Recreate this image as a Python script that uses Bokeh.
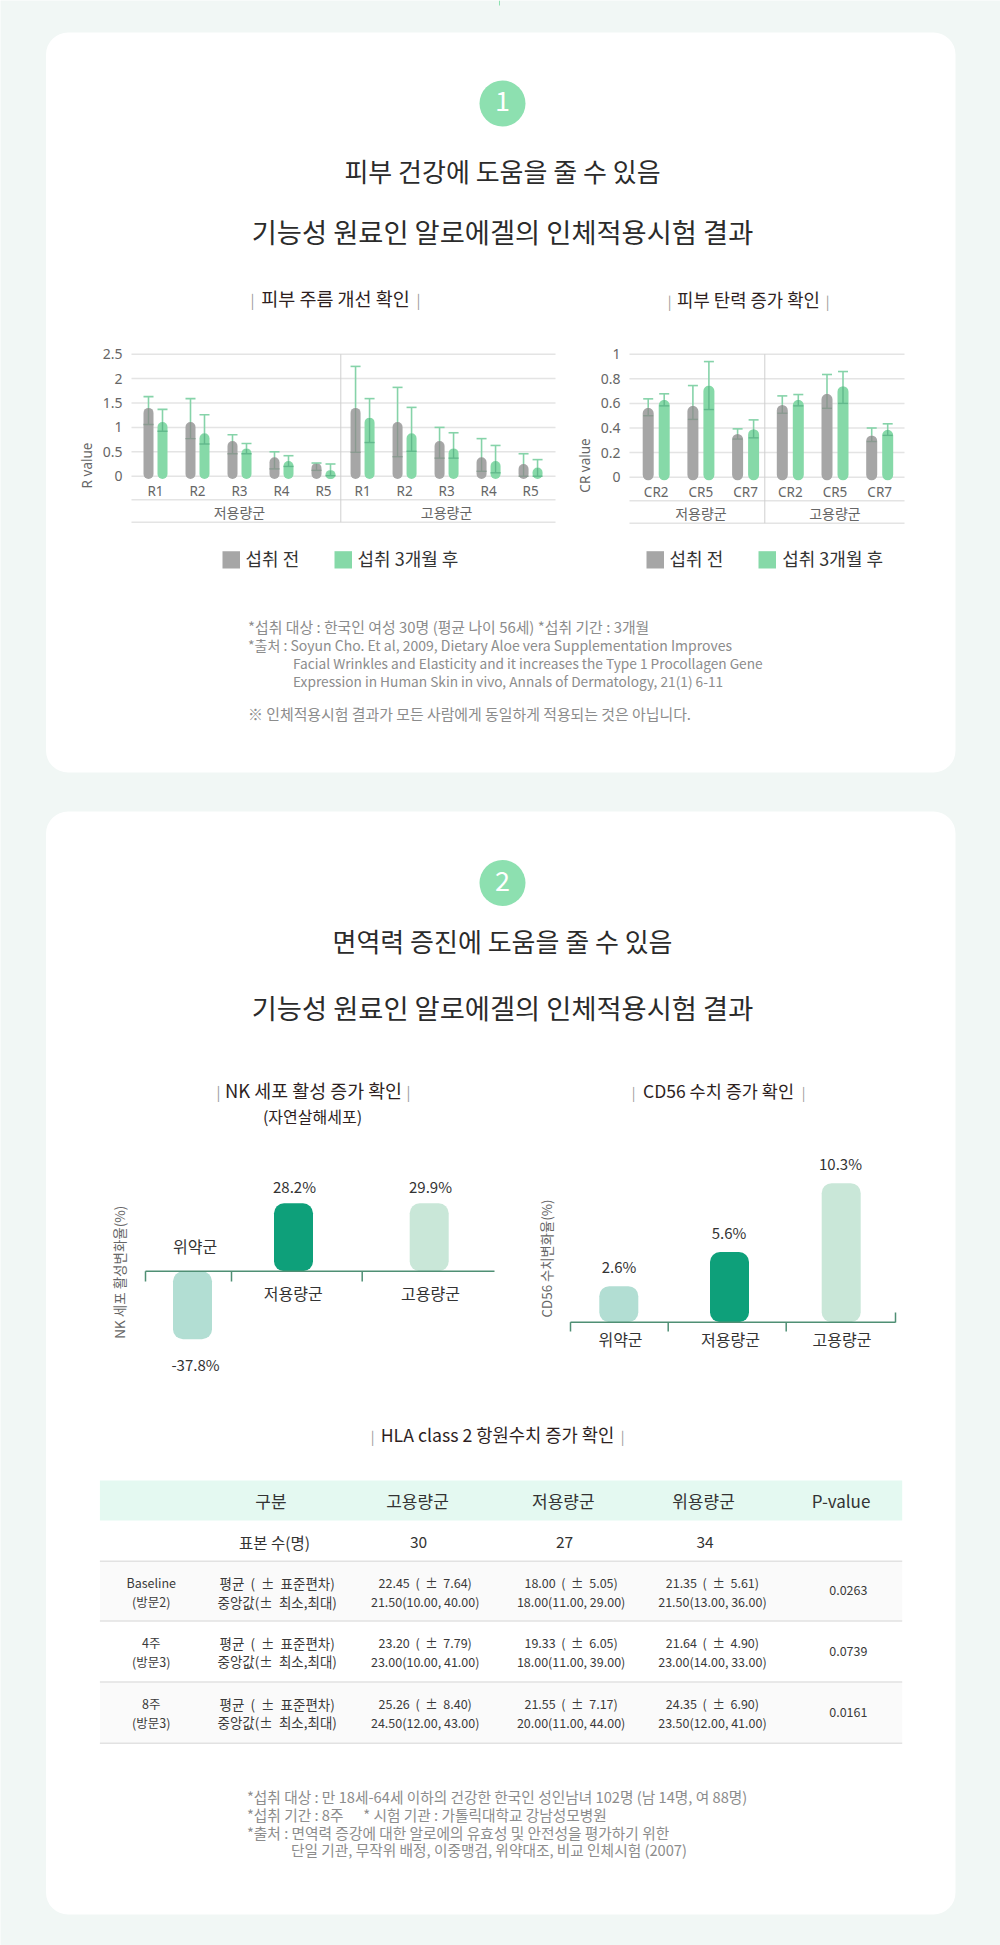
import numpy as np
from bokeh.core.properties import value
from bokeh.embed import file_html
from bokeh.models import FixedTicker, LinearAxis, Range1d
from bokeh.plotting import figure
from bokeh.resources import INLINE

# ---------- data ----------
r_labels = ["R1", "R2", "R3", "R4", "R5"]
r_before = [1.40, 1.11, 0.72, 0.39, 0.27, 1.40, 1.11, 0.72, 0.39, 0.25]
r_after = [1.11, 0.88, 0.57, 0.31, 0.12, 1.20, 0.88, 0.57, 0.31, 0.18]
r_before_hi = [1.63, 1.59, 0.85, 0.50, 0.27, 2.25, 1.82, 1.00, 0.77, 0.46]
r_before_lo = [1.06, 0.77, 0.46, 0.15, 0.12, 0.49, 0.40, 0.37, 0.10, 0.00]
r_after_hi = [1.37, 1.26, 0.67, 0.42, 0.25, 1.59, 1.41, 0.89, 0.63, 0.34]
r_after_lo = [0.92, 0.66, 0.46, 0.20, 0.01, 0.69, 0.51, 0.37, 0.07, 0.00]
r_ticks = [0, 0.5, 1, 1.5, 2, 2.5]

cr_labels = ["CR2", "CR5", "CR7"]
cr_before = [0.564, 0.58, 0.352, 0.588, 0.678, 0.339]
cr_after = [0.629, 0.745, 0.39, 0.629, 0.74, 0.385]
cr_before_hi = [0.637, 0.745, 0.393, 0.661, 0.835, 0.40]
cr_before_lo = [0.50, 0.47, 0.31, 0.52, 0.56, 0.29]
cr_after_hi = [0.678, 0.94, 0.466, 0.672, 0.859, 0.434]
cr_after_lo = [0.58, 0.55, 0.32, 0.58, 0.60, 0.34]
cr_ticks = [0, 0.2, 0.4, 0.6, 0.8, 1]

groups = ["저용량군", "고용량군"]
legend_labels = ["섭취 전", "섭취 3개월 후"]

nk_groups = ["위약군", "저용량군", "고용량군"]
nk_labels = ["-37.8%", "28.2%", "29.9%"]
nk_drawn = [-38, 38, 38]
cd_groups = ["위약군", "저용량군", "고용량군"]
cd_labels = ["2.6%", "5.6%", "10.3%"]
cd_drawn = [2.67, 5.2, 10.3]
group_colors = ["#b2ded3", "#0ea07a", "#c9e7d8"]

table_head = ["구분", "고용량군", "저용량군", "위용량군", "P-value"]
table_n = ["표본 수(명)", "30", "27", "34"]
table_rows = [
    (["Baseline", "(방문2)"], ["22.45 (± 7.64)", "21.50(10.00, 40.00)"],
     ["18.00 (± 5.05)", "18.00(11.00, 29.00)"], ["21.35 (± 5.61)", "21.50(13.00, 36.00)"], "0.0263"),
    (["4주", "(방문3)"], ["23.20 (± 7.79)", "23.00(10.00, 41.00)"],
     ["19.33 (± 6.05)", "18.00(11.00, 39.00)"], ["21.64 (± 4.90)", "23.00(14.00, 33.00)"], "0.0739"),
    (["8주", "(방문3)"], ["25.26 (± 8.40)", "24.50(12.00, 43.00)"],
     ["21.55 (± 7.17)", "20.00(11.00, 44.00)"], ["24.35 (± 6.90)", "23.50(12.00, 41.00)"], "0.0161"),
]
table_stat = ["평균 (± 표준편차)", "중앙값(± 최소,최대)"]

notes_1 = ["*섭취 대상 : 한국인 여성 30명 (평균 나이 56세) *섭취 기간 : 3개월",
           "*출처 : Soyun Cho. Et al, 2009, Dietary Aloe vera Supplementation Improves",
           "Facial Wrinkles and Elasticity and it increases the Type 1 Procollagen Gene",
           "Expression in Human Skin in vivo, Annals of Dermatology, 21(1) 6-11",
           "※ 인체적용시험 결과가 모든 사람에게 동일하게 적용되는 것은 아닙니다."]
notes_2 = ["*섭취 대상 : 만 18세-64세 이하의 건강한 한국인 성인남녀 102명 (남 14명, 여 88명)",
           "*섭취 기간 : 8주\u00a0\u00a0\u00a0\u00a0\u00a0\u00a0* 시험 기관 : 가톨릭대학교 강남성모병원",
           "*출처 : 면역력 증강에 대한 알로에의 유효성 및 안전성을 평가하기 위한",
           "단일 기관, 무작위 배정, 이중맹검, 위약대조, 비교 인체시험 (2007)"]

# ---------- canvas: default ranges are page pixels ----------
BG = "#f1f7f5"
FONT = "Noto Sans CJK KR"
GREY, GREEN = "#a6a6a6", "#86d9a8"
L, R, T, B = 0, 1000, 0, 1945

p = figure(width=R - L, height=B - T, x_range=Range1d(L, R), y_range=Range1d(B, T),
           x_axis_location=None, y_axis_location=None, toolbar_location=None,
           output_backend="svg", min_border=0)
p.grid.visible = False
p.outline_line_color = None
p.background_fill_color = BG
p.border_fill_color = BG


def x_scale(name, a, pa, b, pb):
    k = (b - a) / (pb - pa)
    p.extra_x_ranges[name] = Range1d(a + (L - pa) * k, a + (R - pa) * k)


def y_scale(name, a, pa, b, pb):
    k = (b - a) / (pb - pa)
    p.extra_y_ranges[name] = Range1d(a + (B - pa) * k, a + (T - pa) * k)


def txt(x, y, s, size=14, color="#333333", align="center", angle=0, style="normal", font=FONT):
    if size >= 15 and angle == 0:
        y -= size * 0.08
    p.text(x=[x], y=[y], text=[s], text_font=value(font), text_font_size=f"{size}px",
           text_color=color, text_align=align, text_baseline="middle", angle=angle,
           text_font_style=style)


def subtitle(cx, y, s, half, size=18):
    txt(cx, y, s, size, "#2e1f1f")
    txt(cx - half, y, "|", size - 4, "#9a9a9a")
    txt(cx + half, y, "|", size - 4, "#9a9a9a")


def spaced(s):
    return s.replace(" (", "\u00a0\u00a0(\u00a0\u00a0").replace("± ", "±\u00a0\u00a0")


# top connector and cards
p.segment(x0=[499], x1=[499], y0=[0], y1=[5], line_color="#8de0b0", line_width=1)
p.quad(left=[45.5, 45.5], right=[955, 955], top=[32, 811], bottom=[772, 1914],
       fill_color="white", line_color=None, border_radius=22)


def header(y, n, title1, y1, title2, y2):
    p.circle(x=[502], y=[y], radius=23, fill_color="#8de0b0", line_color=None)
    txt(502, y, n, 27, "white")
    txt(502, y1, title1, 26, "#2b2b2b")
    txt(502, y2, title2, 27.3, "#2b2b2b")


header(103, "1", "피부 건강에 도움을 줄 수 있음", 172.5, "기능성 원료인 알로에겔의 인체적용시험 결과", 233)
header(882.6, "2", "면역력 증진에 도움을 줄 수 있음", 942.5, "기능성 원료인 알로에겔의 인체적용시험 결과", 1009)


def range_chart(name, ylabel, ylabel_x, cats, before, after, b_hi, b_lo, a_hi, a_lo, ticks,
                left, right, y_top, y_zero, line1, line2, divider, x0_px, step_px, group_gap,
                off_px, width_px, foot, n_per_group, legend_x):
    xn, yn = name + "x", name + "y"
    x_scale(xn, 0, x0_px, 1, x0_px + step_px)
    y_scale(yn, 0, y_zero, ticks[-1], y_top)

    # grid
    p.segment(x0=[left] * len(ticks), x1=[right] * len(ticks), y0=ticks, y1=ticks, y_range_name=yn,
              line_color="#e4e4e4", line_width=1.5)
    p.segment(x0=[left, left], x1=[right, right], y0=[line1, line2], y1=[line1, line2],
              line_color="#e4e4e4", line_width=1.5)
    p.segment(x0=[divider], x1=[divider], y0=[y_top], y1=[line2], line_color="#cfcfcf", line_width=1)

    n = len(before)
    slots = np.arange(n, dtype=float)
    slots[n_per_group:] += group_gap
    off = off_px / step_px
    w = width_px / step_px
    bottom = [foot] * n
    cap = 5 / step_px
    for dx, vals, color in ((0, before, GREY), (off, after, GREEN)):
        p.vbar(x=slots + dx, width=w, top=vals, bottom=bottom, fill_color=color, line_color=None,
               border_radius=int(round(width_px / 2)), x_range_name=xn, y_range_name=yn)
    for dx, vals, hi, lo, dark in ((0, before, b_hi, b_lo, "#8a9a90"), (off, after, a_hi, a_lo, "#62b98c")):
        xs = slots + dx
        p.segment(x0=xs, x1=xs, y0=vals, y1=hi, line_color="#86d3a9", line_width=1.6,
                  x_range_name=xn, y_range_name=yn)
        p.segment(x0=xs, x1=xs, y0=lo, y1=vals, line_color=dark, line_width=1.4,
                  x_range_name=xn, y_range_name=yn)
        p.segment(x0=xs - cap, x1=xs + cap, y0=hi, y1=hi, line_color="#86d3a9", line_width=1.6,
                  x_range_name=xn, y_range_name=yn)
        p.segment(x0=xs - cap, x1=xs + cap, y0=lo, y1=lo, line_color=dark, line_width=1.4,
                  x_range_name=xn, y_range_name=yn)

    # y axis
    ya = LinearAxis(y_range_name=yn, fixed_location=left, ticker=FixedTicker(ticks=ticks),
                    axis_line_color=None, major_tick_line_color=None, minor_tick_line_color=None,
                    major_tick_out=0, minor_tick_out=0,
                    major_label_standoff=9, major_label_text_font="Noto Sans",
                    major_label_text_font_size="14px", major_label_text_color="#666666",
                    major_label_overrides={t: f"{t:g}" for t in ticks})
    p.add_layout(ya, "left")
    txt(ylabel_x, 465, ylabel, 13.5, "#666666", angle=np.pi / 2, font="Noto Sans")

    # category and group axes
    centres = slots + off / 2
    xa = LinearAxis(x_range_name=xn, fixed_location=y_zero, ticker=FixedTicker(ticks=[float(c) for c in centres]),
                    axis_line_color=None, major_tick_line_color=None, minor_tick_line_color=None,
                    major_tick_out=0, minor_tick_out=0,
                    major_label_standoff=6, major_label_text_font="Noto Sans",
                    major_label_text_font_size="13.5px", major_label_text_color="#666666",
                    major_label_overrides={float(c): cats[i % n_per_group] for i, c in enumerate(centres)})
    p.add_layout(xa, "below")
    gc = [float(np.mean(centres[:n_per_group])), float(np.mean(centres[n_per_group:]))]
    ga = LinearAxis(x_range_name=xn, fixed_location=line1, ticker=FixedTicker(ticks=gc),
                    axis_line_color=None, major_tick_line_color=None, minor_tick_line_color=None,
                    major_tick_out=0, minor_tick_out=0,
                    major_label_standoff=2, major_label_text_font=FONT,
                    major_label_text_font_size="14px", major_label_text_color="#666666",
                    major_label_overrides=dict(zip(gc, groups)))
    p.add_layout(ga, "below")

    # legend
    for (sq, tx), lab, c in zip(legend_x, legend_labels, (GREY, GREEN)):
        p.quad(left=[sq], right=[sq + 17.5], top=[550.7], bottom=[568], fill_color=c, line_color=None)
        txt(tx, 558.5, lab, 18, "#333333", align="left")


subtitle(335, 299, "피부 주름 개선 확인", 83, 18.5)
subtitle(748, 300, "피부 탄력 증가 확인", 79, 17.8)

range_chart("r", "R value", 86, r_labels, r_before, r_after, r_before_hi, r_before_lo, r_after_hi, r_after_lo,
            r_ticks, 131, 555, 353.7, 475.7, 499.3, 521.7, 340.3, 148, 42, -0.07, 14, 10, -0.055, 5,
            [(222, 245), (334, 357)])
range_chart("c", "CR value", 584, cr_labels, cr_before, cr_after, cr_before_hi, cr_before_lo, cr_after_hi, cr_after_lo,
            cr_ticks, 629, 904, 353.7, 476.7, 500.3, 522.7, 764.3, 647.7, 44.7, 0, 16, 11, -0.025, 3,
            [(646, 669), (758, 781.7)])


def note_block(lines, ys, xs, sizes):
    for s, y, x, size in zip(lines, ys, xs, sizes):
        p.text(x=[x], y=[y], text=[s], text_font=value(FONT), text_font_size=f"{size}px",
               text_color="#8c8c8c", text_align="left", text_baseline="middle")


note_block(notes_1, [626, 644, 662, 680, 713], [247.5, 247.5, 292.5, 292.5, 247.5], [14.9, 14, 13.7, 13.7, 14.9])
note_block(notes_2, [1795.7, 1814, 1832, 1849], [246.5, 246.5, 246.5, 290.5], [14.7, 14.7, 14.7, 14.7])


# ---------- immune bars ----------
def rounded_bars(name, centres_px, zero_px, unit_px, vals):
    xn, yn = name + "x", name + "y"
    step = centres_px[1] - centres_px[0]
    x_scale(xn, 0, centres_px[0], 1, centres_px[1])
    y_scale(yn, 0, zero_px, 1, zero_px - unit_px)
    slots = [(c - centres_px[0]) / step for c in centres_px]
    p.vbar(x=slots, width=39 / step, top=vals, bottom=[0] * len(vals), fill_color=group_colors,
           line_color=None, border_radius=10, x_range_name=xn, y_range_name=yn)


def base_axis(zero_px, x0, x1, ticks_px, tick_to):
    p.segment(x0=[x0], x1=[x1], y0=[zero_px], y1=[zero_px], line_color="#4f8f74", line_width=1.5)
    p.segment(x0=ticks_px, x1=ticks_px, y0=[zero_px] * len(ticks_px), y1=[tick_to] * len(ticks_px),
              line_color="#4f8f74", line_width=1.5)


subtitle(313, 1091, "NK 세포 활성 증가 확인", 95, 18.4)
txt(312, 1117, "(자연살해세포)", 16, "#2e1f1f")
rounded_bars("n", [192, 293, 428.7], 1270.7, 68 / 38, nk_drawn)
base_axis(1270.7, 145, 494, [145, 231, 361.7], 1281)
txt(194.7, 1246.7, nk_groups[0], 16)
txt(292.7, 1294, nk_groups[1], 16)
txt(430, 1294, nk_groups[2], 16)
txt(195, 1365, nk_labels[0], 15)
txt(294, 1186.7, nk_labels[1], 15)
txt(430, 1186.7, nk_labels[2], 15)
txt(118, 1271.7, "NK 세포 활성변화율(%)", 13.5, "#666666", angle=np.pi / 2)

subtitle(718, 1091, "CD56 수치 증가 확인", 85, 17.5)
rounded_bars("d", [618.3, 729, 840.7], 1321.7, 13.5, cd_drawn)
base_axis(1321.7, 570, 895, [570, 667.7, 785.7], 1331)
p.segment(x0=[895], x1=[895], y0=[1312], y1=[1322], line_color="#4f8f74", line_width=1.5)
for cx, g, lab, v in zip([620, 730, 841.5], cd_groups, cd_labels, cd_drawn):
    txt(cx, 1340, g, 16)
    txt(cx - 1.5, 1321.7 - v * 13.5 - 18, lab, 15)
txt(546, 1258, "CD56 수치변화율(%)", 13.3, "#666666", angle=np.pi / 2)

# ---------- table ----------
subtitle(497, 1435, "HLA class 2 항원수치 증가 확인", 125, 17.7)
p.quad(left=[99.4], right=[901.7], top=[1480], bottom=[1520], fill_color="#e4f9f1", line_color=None)
p.quad(left=[99.4, 99.4], right=[901.7, 901.7], top=[1561, 1681.5], bottom=[1620.5, 1742.7],
       fill_color="#fafafa", line_color=None)
for yy in (1560.7, 1620.5, 1681.5, 1742.7):
    p.segment(x0=[99.4], x1=[901.7], y0=[yy], y1=[yy], line_color="#e2e2e2", line_width=1.5)
for s, x in zip(table_head, (270.5, 417, 562.8, 703, 840.6)):
    txt(x, 1501.7, s, 17, "#333333")
for s, x in zip(table_n, (274, 418, 564, 704.6)):
    txt(x, 1542.7, s, 15.5, "#333333")
TC = "#3a3a3a"
for (label, hi, lo, pl, pv), (y1, y2, yp) in zip(table_rows, ((1582, 1601, 1589.3), (1642, 1660.7, 1650.7), (1703, 1721.7, 1711.7))):
    txt(150.7, y1, label[0], 12.5, TC)
    txt(150.7, y2, label[1], 12.5, TC)
    txt(276.7, y1, spaced(table_stat[0]), 13.5, TC)
    txt(276.7, y2, spaced(table_stat[1]), 13.5, TC)
    for cell, x in zip((hi, lo, pl), (424.7, 570.6, 711.9)):
        txt(x, y1, spaced(cell[0]), 12.5, TC)
        txt(x, y2, cell[1], 12.5, TC)
    txt(847.8, yp, pv, 12.5, TC)

open("out.html", "w").write(file_html(p, INLINE))
